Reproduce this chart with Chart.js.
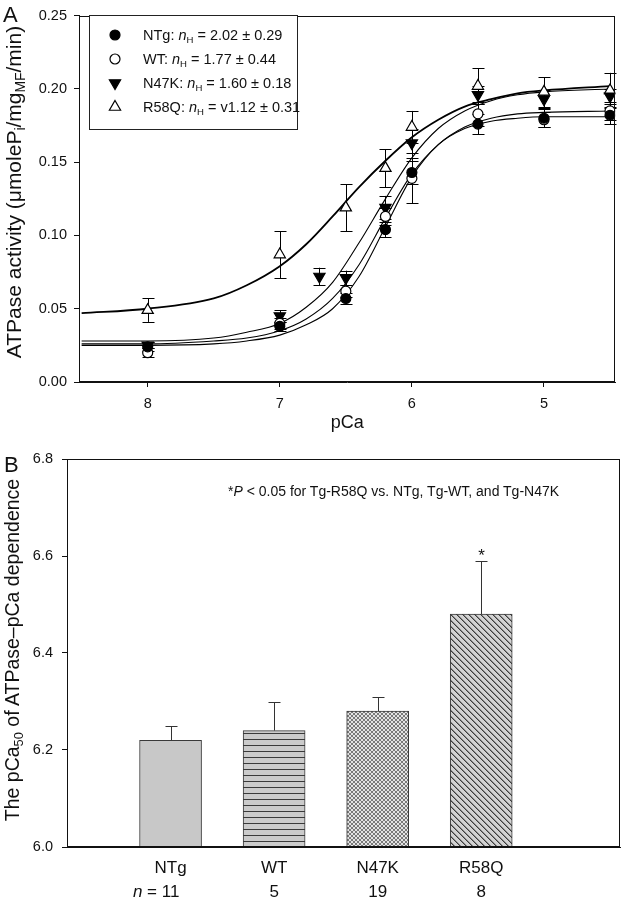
<!DOCTYPE html>
<html lang="en">
<head>
<meta charset="UTF-8">
<title>ATPase activity vs pCa</title>
<style>
  html, body { margin: 0; padding: 0; background: #fff; }
  body { width: 623px; height: 900px; position: relative; overflow: hidden;
         font-family: "Liberation Sans", Arial, sans-serif; color: #111; }
  .panel { position: absolute; left: 0; width: 623px; }
  #panelA { top: 0; height: 440px; }
  #panelB { top: 440px; height: 460px; }
  canvas { position: absolute; left: 0; top: 0; }
  .lbl { position: absolute; white-space: nowrap; line-height: 1; }
  .letter { font-size: 22px; }
  .ytitle { position: absolute; white-space: nowrap; line-height: 1;
            transform: translate(-50%, -50%) rotate(-90deg); }
  sub { font-size: 0.66em; vertical-align: -0.3em; line-height: 0; }
  .leg { font-size: 14.5px; }
  .note { font-size: 14px; }
  .nlab { position: absolute; top: 443px; font-size: 17px; line-height: 1; transform: translateX(-50%); white-space: nowrap; }
  .npre { position: absolute; right: 100%; white-space: pre; }
</style>
</head>
<body>
<div id="panelA" class="panel">
  <canvas id="chartA" width="623" height="440"></canvas>
  <div class="lbl letter" style="left:3px;top:4px">A</div>
  <div class="ytitle" style="left:13px;top:192px;font-size:21px">ATPase activity (μmoleP<sub>i</sub>/mg<sub>MF</sub>/min)</div>
  <div id="legendText"></div>
</div>
<div id="panelB" class="panel">
  <canvas id="chartB" width="623" height="460"></canvas>
  <div class="lbl letter" style="left:4px;top:14px">B</div>
  <div class="ytitle" style="left:13px;top:210px;font-size:19.5px">The pCa<sub>50</sub> of ATPase–pCa dependence</div>
  <div class="lbl note" style="left:228px;top:44px">*<i>P</i> &lt; 0.05 for Tg-R58Q vs. NTg, Tg-WT, and Tg-N47K</div>
</div>

<script src="https://cdn.jsdelivr.net/npm/chart.js"></script>
<script>
  // ---------- panel A: ATPase activity vs pCa ----------
  const pCaTicks = [8, 7, 6, 5];
  const activityTicks = [0, 0.05, 0.10, 0.15, 0.20, 0.25];
  const pCaMeasured = [8, 7, 6.5, 6.2, 6.0, 5.5, 5.0, 4.5];
  const pCaN47K = [8, 7, 6.7, 6.5, 6.2, 6.0, 5.5, 5.0, 4.5];

  const ntgMean = [0.024, 0.038, 0.057, 0.104, 0.143, 0.176, 0.180, 0.182];
  const ntgSem  = [0.003, 0.003, 0.004, 0.005, 0.008, 0.007, 0.006, 0.006];
  const wtMean  = [0.020, 0.040, 0.062, 0.113, 0.139, 0.183, 0.179, 0.185];
  const wtSem   = [0.003, 0.004, 0.004, 0.006, 0.017, 0.008, 0.005, 0.006];
  const n47kMean = [0.025, 0.045, 0.072, 0.071, 0.119, 0.163, 0.196, 0.193, 0.195];
  const n47kSem  = [0.002, 0.004, 0.006, 0.005, 0.008, 0.010, 0.006, 0.006, 0.005];
  const r58qMean = [0.049, 0.087, 0.119, 0.146, 0.174, 0.202, 0.198, 0.199];
  const r58qSem  = [0.008, 0.016, 0.016, 0.013, 0.011, 0.012, 0.010, 0.012];

  // fitted curves
  const pCaFit  = [8.5, 8, 7.5, 7.25, 7, 6.8, 6.6, 6.4, 6.2, 6.0, 5.8, 5.6, 5.4, 5.2, 5.0, 4.5];
  const ntgFit  = [0.025, 0.025, 0.026, 0.028, 0.032, 0.039, 0.050, 0.072, 0.106, 0.140, 0.162, 0.173, 0.178, 0.180, 0.181, 0.181];
  const wtFit   = [0.026, 0.026, 0.028, 0.030, 0.035, 0.043, 0.057, 0.080, 0.112, 0.142, 0.162, 0.174, 0.180, 0.183, 0.184, 0.185];
  const n47kFit = [0.028, 0.028, 0.030, 0.034, 0.040, 0.051, 0.068, 0.095, 0.125, 0.153, 0.173, 0.185, 0.192, 0.196, 0.198, 0.200];
  const r58qFit = [0.047, 0.050, 0.057, 0.066, 0.079, 0.094, 0.113, 0.133, 0.151, 0.167, 0.179, 0.188, 0.193, 0.197, 0.199, 0.202];

  const legendNames = ['NTg', 'WT', 'N47K', 'R58Q'];
  const legendHill  = ['2.02 ± 0.29', '1.77 ± 0.44', '1.60 ± 0.18', 'v1.12 ± 0.31'];

  // ---------- panel B: pCa50 bars ----------
  const groups = ['NTg', 'WT', 'N47K', 'R58Q'];
  const groupN = [11, 5, 19, 8];
  const pCa50Mean = [6.22, 6.24, 6.28, 6.48];
  const pCa50Err  = [0.03, 0.06, 0.03, 0.11];
  const sigMarks  = ['', '', '', '*'];
  const pCa50Ticks = [6.0, 6.2, 6.4, 6.6, 6.8];

  const toXY = (xs, ys) => xs.map((x, i) => ({ x: x, y: ys[i] }));
  const tickFont = { family: '"Liberation Sans", Arial, sans-serif', size: 14.5 };

  const markerStyles = [
    { pointStyle: 'circle', radius: 5, rotation: 0, fill: '#000' },
    { pointStyle: 'circle', radius: 5, rotation: 0, fill: '#fff' },
    { pointStyle: 'triangle', radius: 6.5, rotation: 180, fill: '#000' },
    { pointStyle: 'triangle', radius: 6.5, rotation: 0, fill: '#fff' }
  ];

  function drawMarker(ctx, m, x, y) {
    ctx.save();
    ctx.fillStyle = m.fill;
    ctx.strokeStyle = '#000';
    ctx.lineWidth = 1.2;
    Chart.helpers.drawPoint(ctx, { pointStyle: m.pointStyle, radius: m.radius, rotation: m.rotation, borderWidth: 1.2 }, x, y);
    ctx.restore();
  }

  const frameBox = {
    id: 'frameBox',
    afterDraw(chart) {
      const { ctx, chartArea: a } = chart;
      ctx.save();
      ctx.strokeStyle = '#111';
      ctx.lineWidth = 1;
      const l = Math.round(a.left) + 0.5, t = Math.round(a.top) + 0.5;
      ctx.strokeRect(l, t, Math.round(a.right) - Math.round(a.left) - 1, Math.round(a.bottom) - Math.round(a.top) - 1);
      ctx.restore();
    }
  };

  const errorBars = {
    id: 'errorBars',
    beforeDatasetsDraw(chart) {
      const { ctx } = chart;
      const ys = chart.scales.y;
      ctx.save();
      ctx.strokeStyle = '#000';
      ctx.lineWidth = 1;
      chart.data.datasets.forEach((ds, di) => {
        if (!ds.errors) return;
        chart.getDatasetMeta(di).data.forEach((pt, j) => {
          const v = ds.data[j].y, e = ds.errors[j];
          const x = Math.round(pt.x) + 0.5;
          const y1 = ys.getPixelForValue(v + e), y2 = ys.getPixelForValue(v - e);
          ctx.beginPath();
          ctx.moveTo(x, y1); ctx.lineTo(x, y2);
          ctx.moveTo(x - 6, Math.round(y1) + 0.5); ctx.lineTo(x + 6, Math.round(y1) + 0.5);
          ctx.moveTo(x - 6, Math.round(y2) + 0.5); ctx.lineTo(x + 6, Math.round(y2) + 0.5);
          ctx.stroke();
        });
      });
      ctx.restore();
    }
  };

  const legendBox = {
    id: 'legendBox',
    afterDraw(chart) {
      const ctx = chart.ctx;
      ctx.save();
      ctx.fillStyle = '#fff';
      ctx.fillRect(89, 15, 209, 115);
      ctx.strokeStyle = '#222';
      ctx.lineWidth = 1;
      ctx.strokeRect(89.5, 15.5, 208, 114);
      ctx.restore();
      legendNames.forEach((n, i) => drawMarker(ctx, markerStyles[i], 115, 35 + i * 24));
    }
  };

  function fitSet(ys, width) {
    return {
      data: toXY(pCaFit, ys), showLine: true, pointRadius: 0, borderColor: '#000',
      borderWidth: width, cubicInterpolationMode: 'monotone', order: 2
    };
  }
  function pointSet(xs, ys, errs, m) {
    return {
      data: toXY(xs, ys), errors: errs, showLine: false, order: 1,
      pointStyle: m.pointStyle, pointRadius: m.radius, pointRotation: m.rotation,
      pointBackgroundColor: m.fill, pointBorderColor: '#000', pointBorderWidth: 1.2
    };
  }

  const chartA = new Chart(document.getElementById('chartA'), {
    type: 'scatter',
    data: {
      datasets: [
        pointSet(pCaMeasured, ntgMean, ntgSem, markerStyles[0]),
        pointSet(pCaMeasured, wtMean, wtSem, markerStyles[1]),
        pointSet(pCaN47K, n47kMean, n47kSem, markerStyles[2]),
        pointSet(pCaMeasured, r58qMean, r58qSem, markerStyles[3]),
        fitSet(ntgFit, 1.1),
        fitSet(wtFit, 1.1),
        fitSet(n47kFit, 1.1),
        fitSet(r58qFit, 1.8)
      ]
    },
    options: {
      responsive: false,
      animation: false,
      layout: { padding: { top: 6, right: 5, left: 0, bottom: 0 } },
      plugins: { legend: { display: false }, tooltip: { enabled: false } },
      scales: {
        x: {
          type: 'linear', reverse: true, min: 4.46, max: 8.52,
          afterBuildTicks: s => { s.ticks = pCaTicks.map(v => ({ value: v })); },
          afterFit: s => { s.height = 58; },
          ticks: { font: tickFont, color: '#111', padding: 8, maxRotation: 0 },
          grid: { drawOnChartArea: false, tickLength: 5, color: '#111' },
          border: { color: '#111' },
          title: { display: true, text: 'pCa', color: '#111',
                   font: { family: '"Liberation Sans", Arial, sans-serif', size: 18 },
                   padding: { top: 0, bottom: 6 } }
        },
        y: {
          min: 0, max: 0.25,
          afterBuildTicks: s => { s.ticks = activityTicks.map(v => ({ value: v })); },
          afterFit: s => { s.width = 79; },
          ticks: { font: tickFont, color: '#111', padding: 7, callback: v => Number(v).toFixed(2) },
          grid: { drawOnChartArea: false, tickLength: 5, color: '#111' },
          border: { color: '#111' }
        }
      }
    },
    plugins: [frameBox, errorBars, legendBox]
  });

  // legend text
  const legendText = document.getElementById('legendText');
  legendNames.forEach((n, i) => {
    const d = document.createElement('div');
    d.className = 'lbl leg';
    d.style.left = '143px';
    d.style.top = (28 + i * 24) + 'px';
    d.innerHTML = n + ': <i>n</i><sub>H</sub> = ' + legendHill[i];
    legendText.appendChild(d);
  });

  // ---------- panel B chart ----------
  function makePattern(kind) {
    const c = document.createElement('canvas');
    const g = c.getContext('2d');
    if (kind === 'solid') {
      c.width = 2; c.height = 2;
      g.fillStyle = '#c8c8c8'; g.fillRect(0, 0, 2, 2);
    } else if (kind === 'hlines') {
      c.width = 6; c.height = 6;
      g.fillStyle = '#cbcbcb'; g.fillRect(0, 0, 6, 6);
      g.fillStyle = '#3a3a3a'; g.fillRect(0, 5, 6, 1);
    } else if (kind === 'cross') {
      c.width = 4; c.height = 4;
      g.fillStyle = '#e4e4e4'; g.fillRect(0, 0, 4, 4);
      g.fillStyle = '#7a7a7a';
      for (let i = 0; i < 4; i++) { g.fillRect(i, i, 1, 1); g.fillRect(i, 3 - i, 1, 1); }
    } else {
      c.width = 6; c.height = 6;
      g.fillStyle = '#d2d2d2'; g.fillRect(0, 0, 6, 6);
      g.fillStyle = '#3c3c3c';
      for (let i = 0; i < 6; i++) g.fillRect(i, i, 1, 1);
      g.fillStyle = '#8a8a8a';
      for (let i = 0; i < 6; i++) g.fillRect((i + 1) % 6, i, 1, 1);
    }
    return g.createPattern(c, 'repeat');
  }
  const barFills = ['solid', 'hlines', 'cross', 'diag'].map(makePattern);

  const barErrors = {
    id: 'barErrors',
    afterDatasetsDraw(chart) {
      const { ctx } = chart;
      const ys = chart.scales.y;
      const meta = chart.getDatasetMeta(0);
      ctx.save();
      ctx.strokeStyle = '#333';
      ctx.lineWidth = 1;
      meta.data.forEach((bar, j) => {
        const x = Math.round(bar.x) + 0.5;
        const yTop = Math.round(ys.getPixelForValue(pCa50Mean[j] + pCa50Err[j])) + 0.5;
        ctx.beginPath();
        ctx.moveTo(x, bar.y); ctx.lineTo(x, yTop);
        ctx.moveTo(x - 6, yTop); ctx.lineTo(x + 6, yTop);
        ctx.stroke();
        if (sigMarks[j]) {
          ctx.fillStyle = '#111';
          ctx.font = '17px "Liberation Sans", Arial, sans-serif';
          ctx.textAlign = 'center';
          ctx.textBaseline = 'bottom';
          ctx.fillText(sigMarks[j], x, yTop + 3);
        }
      });
      ctx.restore();
    }
  };

  const chartB = new Chart(document.getElementById('chartB'), {
    type: 'bar',
    data: {
      datasets: [{
        data: pCa50Mean.map((v, i) => ({ x: i + 1, y: v })),
        backgroundColor: barFills,
        borderColor: '#3a3a3a',
        borderWidth: 1,
        borderSkipped: false,
        barThickness: 62
      }]
    },
    options: {
      responsive: false,
      animation: false,
      layout: { padding: { top: 19, right: 3, left: 0, bottom: 0 } },
      plugins: { legend: { display: false }, tooltip: { enabled: false } },
      scales: {
        x: {
          type: 'linear', min: 0, max: 5.34, offset: false,
          afterBuildTicks: s => { s.ticks = groups.map((g, i) => ({ value: i + 1 })); },
          afterFit: s => { s.height = 53; },
          ticks: { font: { family: '"Liberation Sans", Arial, sans-serif', size: 17 }, color: '#111',
                   padding: 11, maxRotation: 0, callback: v => groups[v - 1] || '' },
          grid: { drawOnChartArea: false, drawTicks: false },
          border: { color: '#111' }
        },
        y: {
          min: 6.0, max: 6.8,
          afterBuildTicks: s => { s.ticks = pCa50Ticks.map(v => ({ value: v })); },
          afterFit: s => { s.width = 67; },
          ticks: { font: tickFont, color: '#111', padding: 9, callback: v => Number(v).toFixed(1) },
          grid: { drawOnChartArea: false, tickLength: 5, color: '#111' },
          border: { color: '#111' }
        }
      }
    },
    plugins: [frameBox, barErrors]
  });

  // n row under the categories
  const panelB = document.getElementById('panelB');
  groupN.forEach((n, i) => {
    const d = document.createElement('div');
    d.className = 'nlab';
    d.style.left = chartB.scales.x.getPixelForValue(i + 1) + 'px';
    d.innerHTML = (i === 0 ? '<span class="npre"><i>n</i> = </span>' : '') + n;
    panelB.appendChild(d);
  });
</script>
</body>
</html>
